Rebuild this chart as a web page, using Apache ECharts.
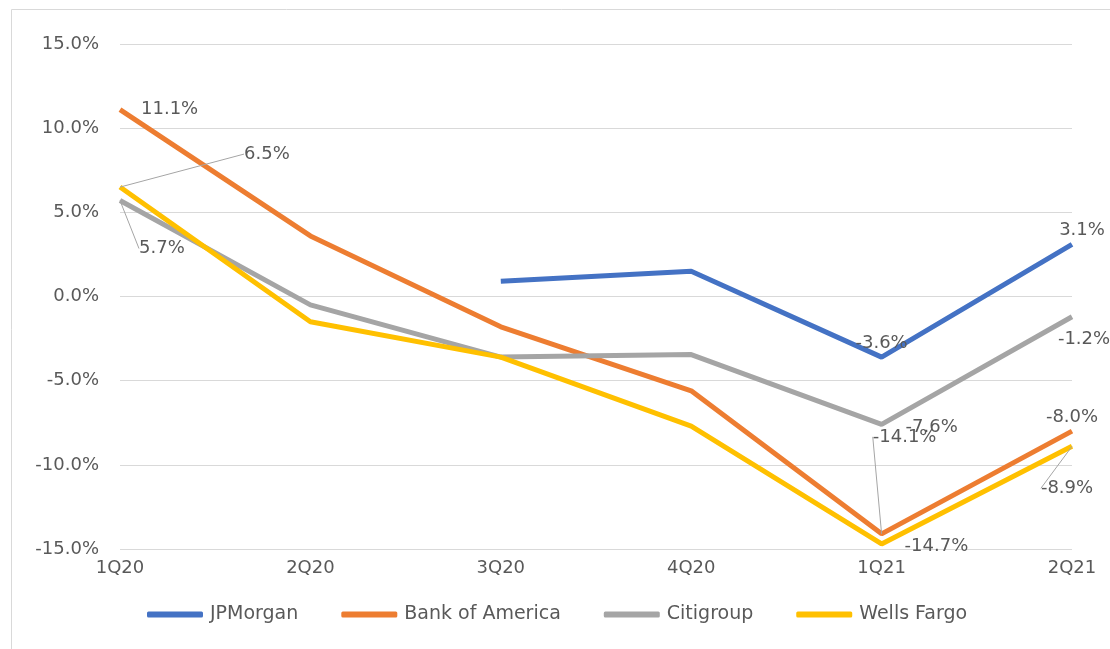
<!DOCTYPE html>
<html>
<head>
<meta charset="utf-8">
<script src="https://cdn.jsdelivr.net/npm/echarts@6/dist/echarts.min.js"></script>
<style>
  html, body { margin: 0; padding: 0; background: #fff; }
  #main { width: 1110px; height: 649px; }
</style>
</head>
<body>
<div id="main"></div>
<script>
// quarters on the x axis
const quarters = ['1Q20', '2Q20', '3Q20', '4Q20', '1Q21', '2Q21'];

// quarterly growth, percent
const jpmorgan = [null, null, 0.9, 1.5, -3.6, 3.1];
const bankOfAmerica = [11.1, 3.6, -1.8, -5.6, -14.1, -8.0];
const citigroup = [5.7, -0.5, -3.6, -3.45, -7.6, -1.2];
const wellsFargo = [6.5, -1.5, -3.6, -7.7, -14.7, -8.9];

const names = ['JPMorgan', 'Bank of America', 'Citigroup', 'Wells Fargo'];
const colors = ['#4472C4', '#ED7D31', '#A5A5A5', '#FFC000'];

// which points get a label, where it sits, and whether it has a leader line
const labelSpots = [
  { 4: { pos: 'top' }, 5: { pos: 'top', dx: 10 } },
  { 0: { pos: 'right', dx: 16 }, 4: { pos: 'top', dx: 23, dy: -83, line: true }, 5: { pos: 'top' } },
  { 0: { pos: 'right', dx: 14, dy: 48, line: true }, 4: { pos: 'right', dx: 19, dy: 3 }, 5: { pos: 'bottom', dx: 12, dy: 9 } },
  { 0: { pos: 'right', dx: 119, dy: -33, line: true }, 4: { pos: 'right', dx: 18, dy: 2 }, 5: { pos: 'bottom', dx: -5, dy: 28, line: true } }
];

const font = 'DejaVu Sans';
const textColor = '#595959';

const chart = echarts.init(document.getElementById('main'));

function makeSeries(name, values, idx) {
  const spots = labelSpots[idx];
  return {
    name: name,
    type: 'line',
    symbol: 'circle',
    symbolSize: 0,
    showSymbol: true,
    connectNulls: false,
    lineStyle: { width: 5, color: colors[idx] },
    itemStyle: { color: colors[idx] },
    labelLine: { show: false },
    data: values.map(function (v, i) {
      const s = spots[i];
      return {
        value: v,
        labelLine: {
          show: !!(s && s.line),
          lineStyle: { color: '#a5a5a5', width: 1 }
        },
        label: {
          show: !!s,
          position: s ? s.pos : 'top',
          distance: 5,
          formatter: function (p) { return p.value.toFixed(1) + '%'; },
          fontFamily: font,
          fontSize: 18,
          color: textColor
        }
      };
    })
  };
}

const allValues = [jpmorgan, bankOfAmerica, citigroup, wellsFargo];

const option = {
  animation: false,
  color: colors,
  graphic: [{
    type: 'rect',
    shape: { x: 11.5, y: 9.5, width: 1120, height: 660 },
    style: { fill: 'none', stroke: '#d9d9d9', lineWidth: 1 },
    silent: true
  }],
  grid: { left: 120, right: 38, top: 44, bottom: 100 },
  legend: {
    top: 600,
    left: 142,
    icon: 'roundRect',
    itemWidth: 56,
    itemHeight: 6,
    itemGap: 43,
    textStyle: { fontFamily: font, fontSize: 19, color: textColor, padding: [0, 0, 0, 2] },
    data: names
  },
  xAxis: {
    type: 'category',
    data: quarters,
    boundaryGap: false,
    axisLine: { show: false },
    axisTick: { show: false },
    axisLabel: { fontFamily: font, fontSize: 18, color: textColor, margin: 10 }
  },
  yAxis: {
    type: 'value',
    min: -15,
    max: 15,
    interval: 5,
    axisLine: { show: false },
    axisTick: { show: false },
    splitLine: { lineStyle: { color: '#d9d9d9', width: 1 } },
    axisLabel: {
      fontFamily: font, fontSize: 18, color: textColor, margin: 21,
      formatter: function (v) { return v.toFixed(1) + '%'; }
    }
  },
  labelLayout: function (p) {
    const s = labelSpots[p.seriesIndex] && labelSpots[p.seriesIndex][p.dataIndex];
    if (!s) return {};
    return { dx: s.dx || 0, dy: s.dy || 0 };
  },
  series: names.map(function (n, i) { return makeSeries(n, allValues[i], i); })
};

chart.setOption(option);
</script>
</body>
</html>
